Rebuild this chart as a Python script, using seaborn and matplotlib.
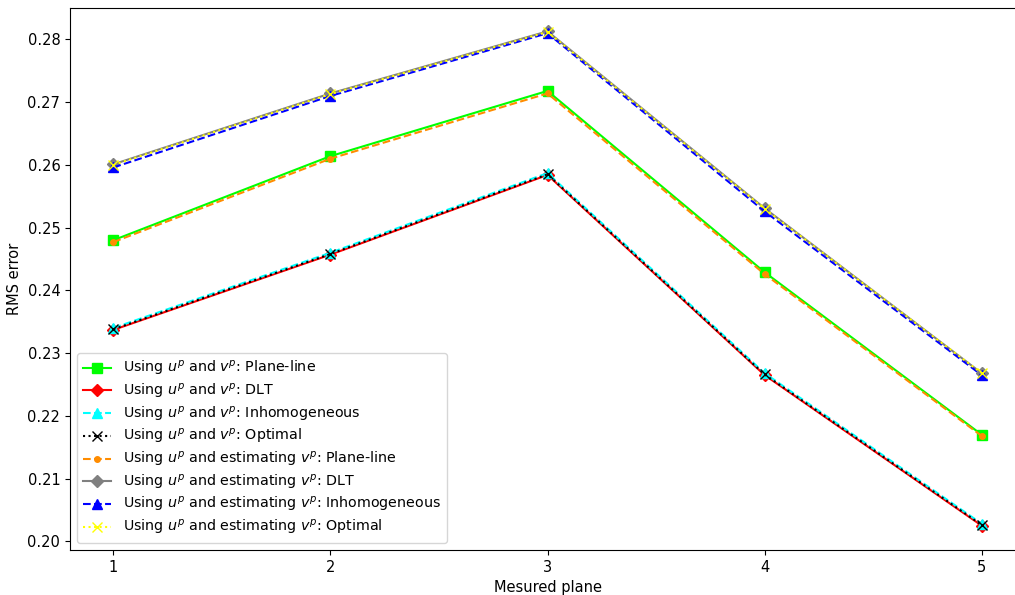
import matplotlib
matplotlib.use("Agg")
import matplotlib.pyplot as plt
import seaborn as sns
import pandas as pd

planes = [1, 2, 3, 4, 5]

pl_known = [0.2480, 0.2614, 0.2718, 0.2429, 0.2170]
dlt_known = [0.2337, 0.2457, 0.2584, 0.2265, 0.2025]
inh_known = [0.2340, 0.2460, 0.2587, 0.2268, 0.2028]
opt_known = [0.2338, 0.2458, 0.2585, 0.2266, 0.2026]
pl_est = [0.2477, 0.2610, 0.2714, 0.2426, 0.2168]
dlt_est = [0.2601, 0.2714, 0.2813, 0.2531, 0.2268]
inh_est = [0.2596, 0.2710, 0.2810, 0.2526, 0.2265]
opt_est = [0.2600, 0.2713, 0.2812, 0.2530, 0.2268]

labels = [
    r"Using $u^p$ and $v^p$: Plane-line",
    r"Using $u^p$ and $v^p$: DLT",
    r"Using $u^p$ and $v^p$: Inhomogeneous",
    r"Using $u^p$ and $v^p$: Optimal",
    r"Using $u^p$ and estimating $v^p$: Plane-line",
    r"Using $u^p$ and estimating $v^p$: DLT",
    r"Using $u^p$ and estimating $v^p$: Inhomogeneous",
    r"Using $u^p$ and estimating $v^p$: Optimal",
]
series = [pl_known, dlt_known, inh_known, opt_known, pl_est, dlt_est, inh_est, opt_est]
styles = [
    dict(color="#00ff00", linestyle="-", marker="s"),
    dict(color="#ff0000", linestyle="-", marker="D"),
    dict(color="#00ffff", linestyle="--", marker="^"),
    dict(color="black", linestyle=":", marker="x"),
    dict(color="#ff8c00", linestyle="--", marker="o", markersize=4),
    dict(color="gray", linestyle="-", marker="D"),
    dict(color="#0000ff", linestyle="--", marker="^"),
    dict(color="#ffff00", linestyle=":", marker="x"),
]

plt.rcParams["font.family"] = ["DejaVu Sans"]
plt.rcParams["font.size"] = 10.5

fig = plt.figure(figsize=(10.15, 5.95), dpi=100)
ax = fig.add_axes([70 / 1015, (595 - 550) / 595, 955 / 1015, 542.5 / 595])

for vals, lab, st in zip(series, labels, styles):
    df = pd.DataFrame({"plane": planes, "rms": vals})
    kw = dict(st)
    kw.setdefault("markersize", 6.5)
    sns.lineplot(data=df, x="plane", y="rms", ax=ax, label=lab,
                 linewidth=1.5, markeredgewidth=1.0, markeredgecolor=kw["color"], **kw)

ax.set_xlim(0.8, 5.2)
ax.set_ylim(0.1986, 0.2851)
ax.set_xticks(planes)
ax.set_yticks([0.20, 0.21, 0.22, 0.23, 0.24, 0.25, 0.26, 0.27, 0.28])
ax.set_yticklabels(["0.20", "0.21", "0.22", "0.23", "0.24", "0.25", "0.26", "0.27", "0.28"])
ax.set_xlabel("Mesured plane")
ax.set_ylabel("RMS error")
ax.legend(loc="lower left", fontsize=10.3, labelspacing=0.26, handlelength=2.0,
          borderaxespad=0.5)

fig.savefig("out.png", dpi=100)
